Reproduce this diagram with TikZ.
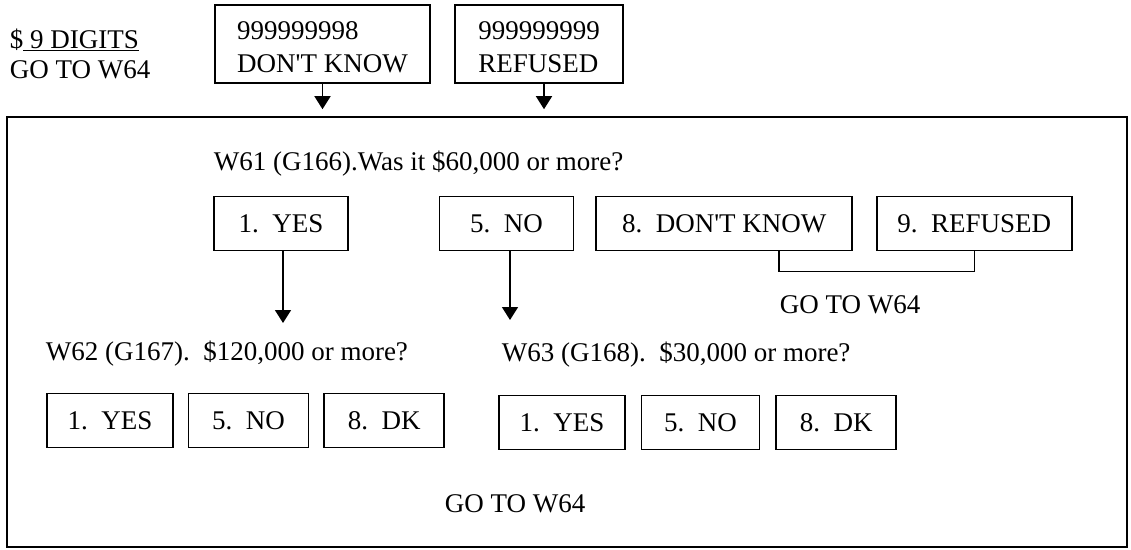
\documentclass[tikz,border=0pt]{standalone}
\usepackage{fontspec}
\setmainfont{Liberation Serif}
\usetikzlibrary{positioning,arrows.meta}

\begin{document}
\begin{tikzpicture}[x=1pt,y=-1pt,line width=1.6pt,
  every node/.style={font=\fontsize{27}{30}\selectfont,inner sep=0pt},
  box/.style={draw,align=left,minimum height=78},
  optbox/.style={draw,minimum height=54},
  arr/.style={-{Triangle[length=13pt,width=16pt]}}]
  \useasboundingbox (0,0) rectangle (1131,549);
  \node[anchor=north west,align=left] (digits) at (9,28) {\$\underline{\ 9 DIGITS}\\GO TO W64};
  \node[box,minimum width=215] (dk) at (322.5,44) {\rule{0pt}{24pt}999999998\\[3pt]DON\textquotesingle T KNOW};
  \node[box,minimum width=168] (ref) at (539,44) {\rule{0pt}{24pt}999999999\\[3pt]REFUSED};
  \node[draw,minimum width=1120,minimum height=430] (frame) at (567,332) {};
  \draw[arr,shorten >=7pt] (dk.south) -- (dk.south |- frame.north);
  \draw[arr,shorten >=7pt] ([xshift=5pt]ref.south) -- ([xshift=5pt]ref.south |- frame.north);
  \node[anchor=base west] (q61) at (213,170) {W61 (G166).Was it \$60,000 or more?};
  \node[optbox,minimum width=134] (yes1) at (281,223.5) {1.\ \ YES};
  \node[optbox,minimum width=134,right=90pt of yes1] (no1) {5.\ \ NO};
  \node[optbox,minimum width=256,right=21pt of no1] (dk1) {8.\ \ DON\textquotesingle T KNOW};
  \node[optbox,minimum width=195,right=23pt of dk1] (ref1) {9.\ \ REFUSED};
  \draw ([xshift=55pt]dk1.south) -- ++(0,20) -| (ref1.south);
  \node[anchor=base west] (go61) at (779,313) {GO TO W64};
  \coordinate (yestip) at (283,323);
  \coordinate (notip) at (510,320);
  \draw[arr] (yestip |- yes1.south) -- (yestip);
  \draw[arr] (notip |- no1.south) -- (notip);
  \node[anchor=base west] (q62) at (45,360) {W62 (G167).\ \ \$120,000 or more?};
  \node[anchor=base west] (q63) at (501,361) {W63 (G168).\ \ \$30,000 or more?};
  \node[optbox,minimum width=126] (yes2) at (110,420.5) {1.\ \ YES};
  \node[optbox,minimum width=120,right=14pt of yes2] (no2) {5.\ \ NO};
  \node[optbox,minimum width=120,right=14pt of no2] (dk2) {8.\ \ DK};
  \node[optbox,minimum width=126] (yes3) at (562,422.5) {1.\ \ YES};
  \node[optbox,minimum width=118,right=15pt of yes3] (no3) {5.\ \ NO};
  \node[optbox,minimum width=120,right=15pt of no3] (dk3) {8.\ \ DK};
  \node[anchor=base west] (go62) at (444,512) {GO TO W64};
\end{tikzpicture}
\end{document}
